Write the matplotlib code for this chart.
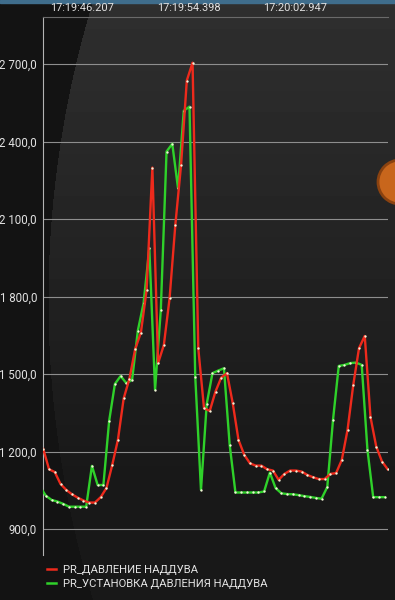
import numpy as np
import matplotlib
matplotlib.use('Agg')
import matplotlib.pyplot as plt
from matplotlib.lines import Line2D
from matplotlib.patches import Ellipse, Rectangle
from matplotlib.ticker import FuncFormatter

plt.rcParams['font.family'] = ['Roboto', 'DejaVu Sans']

# DATA (sample index on x, kPa-like values on y)
pressure = [1210, 1132, 1121, 1075, 1052, 1035, 1022, 1011, 1003, 1003,
            1024, 1059, 1148, 1246, 1406, 1482, 1597, 1661, 1826, 2300,
            1543, 1613, 1794, 2078, 2310, 2637, 2706, 1600, 1368, 1358,
            1433, 1487, 1504, 1388, 1246, 1188, 1155, 1146, 1146, 1132,
            1127, 1091, 1114, 1127, 1127, 1123, 1110, 1101, 1094, 1094,
            1114, 1117, 1168, 1284, 1459, 1601, 1648, 1334, 1220, 1162,
            1132]
setpoint = [1062, 1029, 1013, 1007, 998, 987, 987, 987, 987, 1145,
            1071, 1071, 1319, 1462, 1493, 1465, 1478, 1669, 1775, 1988,
            1440, 1749, 2362, 2392, 2220, 2520, 2536, 1491, 1052, 1385,
            1504, 1514, 1523, 1226, 1042, 1042, 1042, 1042, 1042, 1046,
            1119, 1059, 1039, 1036, 1035, 1032, 1028, 1025, 1021, 1018,
            1063, 1323, 1532, 1536, 1543, 1545, 1536, 1207, 1024, 1024,
            1024]
x_pressure = np.arange(len(pressure))
x_setpoint = np.arange(len(setpoint)) - 0.53   # setpoint samples come ~half a step later

time_pos = [6.7, 25.4, 43.9]
time_labels = ['17:19:46.207', '17:19:54.398', '17:20:02.947']
y_ticks = [900, 1200, 1500, 1800, 2100, 2400, 2700]
labels = ['PR_ДАВЛЕНИЕ НАДДУВА', 'PR_УСТАНОВКА ДАВЛЕНИЯ НАДДУВА']

RED = '#ee2a1c'
GREEN = '#2fd12a'
W, H = 395, 600

fig = plt.figure(figsize=(W / 100, H / 100), dpi=100)
fig.patch.set_facecolor('#141414')

# background: dark screen with a lighter round shape in the upper part
bg_ax = fig.add_axes([0, 0, 1, 1], zorder=-10)
yy, xx = np.mgrid[0:H, 0:W]
inside = (xx - 1075.0)**2 + (yy - 300.0)**2 < 1027.0**2
fade = np.clip(1 - yy / 480.0, 0, 1)
img = np.full((H, W), 0.075)
img[inside] = 0.095 + 0.09 * fade[inside]
bg_ax.imshow(img, cmap='gray', vmin=0, vmax=1, aspect='auto',
             extent=[0, W, H, 0], interpolation='bilinear')
bg_ax.add_patch(Rectangle((0, 0), W, 2.5, color='#3f6d8c'))
bg_ax.add_patch(Ellipse((400, 182), 44, 44, facecolor='#c8661c',
                        edgecolor='#8a4210', lw=2))
bg_ax.set_xlim(0, W)
bg_ax.set_ylim(H, 0)
bg_ax.axis('off')

ax = fig.add_axes([43.3 / W, 45 / H, (388 - 43.3) / W, (555 - 17) / H])
ax.patch.set_alpha(0)

ax.plot(x_setpoint, setpoint, color=GREEN, lw=1.7, marker='o', ms=1.7,
        mfc='#f2f2d8', mec='none', zorder=3)
ax.plot(x_pressure, pressure, color=RED, lw=1.7, marker='o', ms=1.7,
        mfc='#f2f2d8', mec='none', zorder=4)

ax.set_xlim(0, 60.05)
ax.set_ylim(800, 2883)

ax.set_yticks(y_ticks)
ax.yaxis.set_major_formatter(FuncFormatter(
    lambda v, p: '{:,.1f}'.format(v).replace(',', ' ').replace('.', ',')))
ax.grid(axis='y', color='#8e8e8e', lw=0.8)
ax.set_axisbelow(True)

ax.xaxis.tick_top()
ax.set_xticks(time_pos)
ax.set_xticklabels(time_labels)
ax.tick_params(axis='both', length=0, colors='#e2e2e2')
ax.tick_params(axis='y', pad=4.5, labelsize=8.3)
ax.tick_params(axis='x', pad=3.2, labelsize=7.9)

for s in ['right', 'bottom']:
    ax.spines[s].set_visible(False)
ax.spines['left'].set_color('#b4b4b4')
ax.spines['left'].set_linewidth(0.8)
ax.spines['top'].set_color('#6a6a6a')
ax.spines['top'].set_linewidth(0.8)

handles = [Line2D([], [], color=RED, lw=1.8), Line2D([], [], color=GREEN, lw=1.8)]
fig.legend(handles, labels, loc='upper left', bbox_to_anchor=(37 / W, 1 - 555 / H),
           frameon=False, fontsize=8.1, labelcolor='#e4e4e4',
           handlelength=0.8, handletextpad=0.6, labelspacing=0.35)

fig.savefig('out.png', dpi=100, facecolor=fig.get_facecolor())
